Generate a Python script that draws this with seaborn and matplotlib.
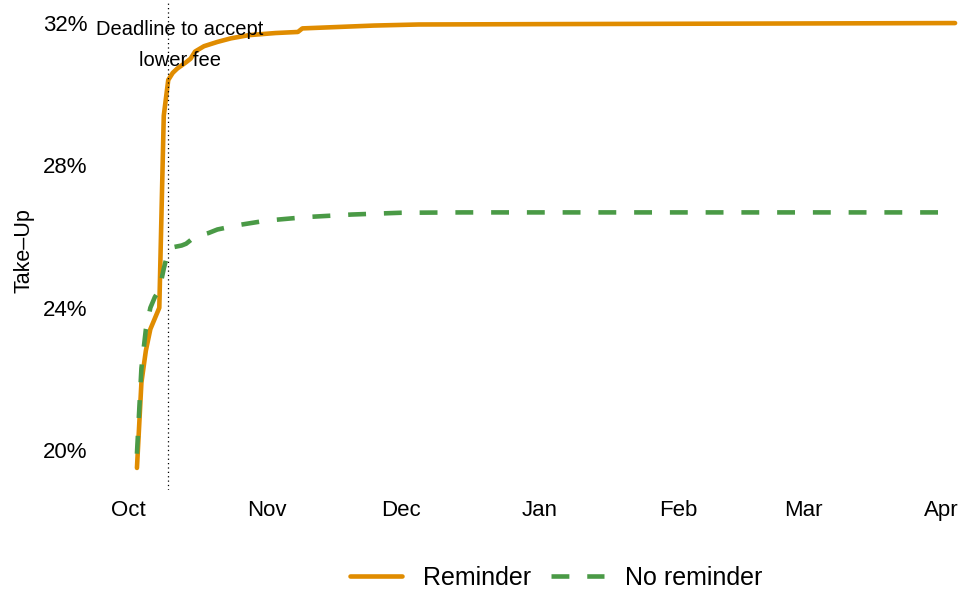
import matplotlib
matplotlib.use("Agg")
import matplotlib.pyplot as plt
import matplotlib.dates as mdates
from matplotlib.ticker import FuncFormatter
import seaborn as sns
import pandas as pd

# take-up (%) by date
reminder_dates = ["2017-10-03", "2017-10-04", "2017-10-05", "2017-10-06", "2017-10-07",
                  "2017-10-08", "2017-10-09", "2017-10-10", "2017-10-11", "2017-10-12",
                  "2017-10-14", "2017-10-15", "2017-10-16", "2017-10-18", "2017-10-21",
                  "2017-10-24", "2017-10-28", "2017-11-03", "2017-11-08", "2017-11-09",
                  "2017-11-15", "2017-11-25", "2017-12-05", "2018-01-01", "2018-04-04"]
reminder_vals = [19.5, 21.9, 22.8, 23.4, 23.7,
                 24.0, 29.4, 30.4, 30.6, 30.72,
                 30.9, 31.0, 31.2, 31.35, 31.47,
                 31.57, 31.66, 31.72, 31.75, 31.85,
                 31.88, 31.93, 31.96, 31.97, 32.0]

noreminder_dates = ["2017-10-03", "2017-10-04", "2017-10-05", "2017-10-06", "2017-10-07",
                    "2017-10-08", "2017-10-09", "2017-10-10", "2017-10-11", "2017-10-13",
                    "2017-10-14", "2017-10-15", "2017-10-16", "2017-10-19", "2017-10-21",
                    "2017-10-26", "2017-11-01", "2017-11-10", "2017-11-20", "2017-12-01",
                    "2017-12-15", "2018-04-04"]
noreminder_vals = [19.9, 22.3, 23.4, 24.0, 24.3,
                   24.5, 25.1, 25.6, 25.7, 25.75,
                   25.8, 25.9, 26.0, 26.1, 26.2,
                   26.33, 26.45, 26.55, 26.62, 26.67,
                   26.68, 26.68]

deadline = "2017-10-10"
deadline_text = "Deadline to accept\nlower fee"
y_ticks = [20, 24, 28, 32]
month_ticks = ["2017-10-01", "2017-11-01", "2017-12-01", "2018-01-01",
               "2018-02-01", "2018-03-01", "2018-04-01"]

orange = "#E08C00"
green = "#4A9A46"
dash = (0, (3.9, 3.9))

sns.set_style("white")
plt.rcParams['font.family'] = ['Liberation Sans', 'DejaVu Sans']
plt.rcParams.update({"text.color": "black", "axes.labelcolor": "black",
                     "xtick.color": "black", "ytick.color": "black"})

fig = plt.figure(figsize=(9.64, 5.96), dpi=100)
ax = fig.add_axes([96 / 964, 106 / 596, 868 / 964, 489 / 596])

rem = pd.DataFrame({"date": pd.to_datetime(reminder_dates), "val": reminder_vals})
nor = pd.DataFrame({"date": pd.to_datetime(noreminder_dates), "val": noreminder_vals})

sns.lineplot(data=rem, x="date", y="val", ax=ax, color=orange, linewidth=3.3,
             label="Reminder")
sns.lineplot(data=nor, x="date", y="val", ax=ax, color=green, linewidth=3.3,
             label="No reminder")
ax.lines[1].set_linestyle(dash)

dl = pd.Timestamp(deadline)
ax.axvline(dl, color="black", linestyle=(0, (1, 2.5)), linewidth=0.9)
ax.text(dl + pd.Timedelta(days=2.6), 31.39, deadline_text, ha="center", va="center",
        fontsize=14.5, linespacing=1.8)

start = pd.Timestamp("2017-10-01")
ax.set_xlim(start - pd.Timedelta(days=7.16), start + pd.Timedelta(days=187))
ax.set_ylim(18.88, 32.62)
ax.set_xticks(pd.to_datetime(month_ticks))
ax.xaxis.set_major_formatter(mdates.DateFormatter("%b"))
ax.set_yticks(y_ticks)
ax.yaxis.set_major_formatter(FuncFormatter(lambda v, p: f"{v:.0f}%"))
ax.tick_params(axis="both", length=0, labelsize=16)
ax.tick_params(axis="x", pad=7)
ax.tick_params(axis="y", pad=6)
ax.set_xlabel("")
ax.set_ylabel("Take–Up", fontsize=15.5)
ax.yaxis.set_label_coords(-0.071, 0.49)
sns.despine(ax=ax, left=True, bottom=True)

leg = ax.legend(loc="center", bbox_to_anchor=(556 / 964, 18 / 596),
                bbox_transform=fig.transFigure, ncol=2, frameon=False,
                fontsize=18, handlelength=2.1, handletextpad=0.85, columnspacing=0.8)
leg.get_lines()[1].set_linestyle(dash)

fig.savefig("out.png", dpi=100)
